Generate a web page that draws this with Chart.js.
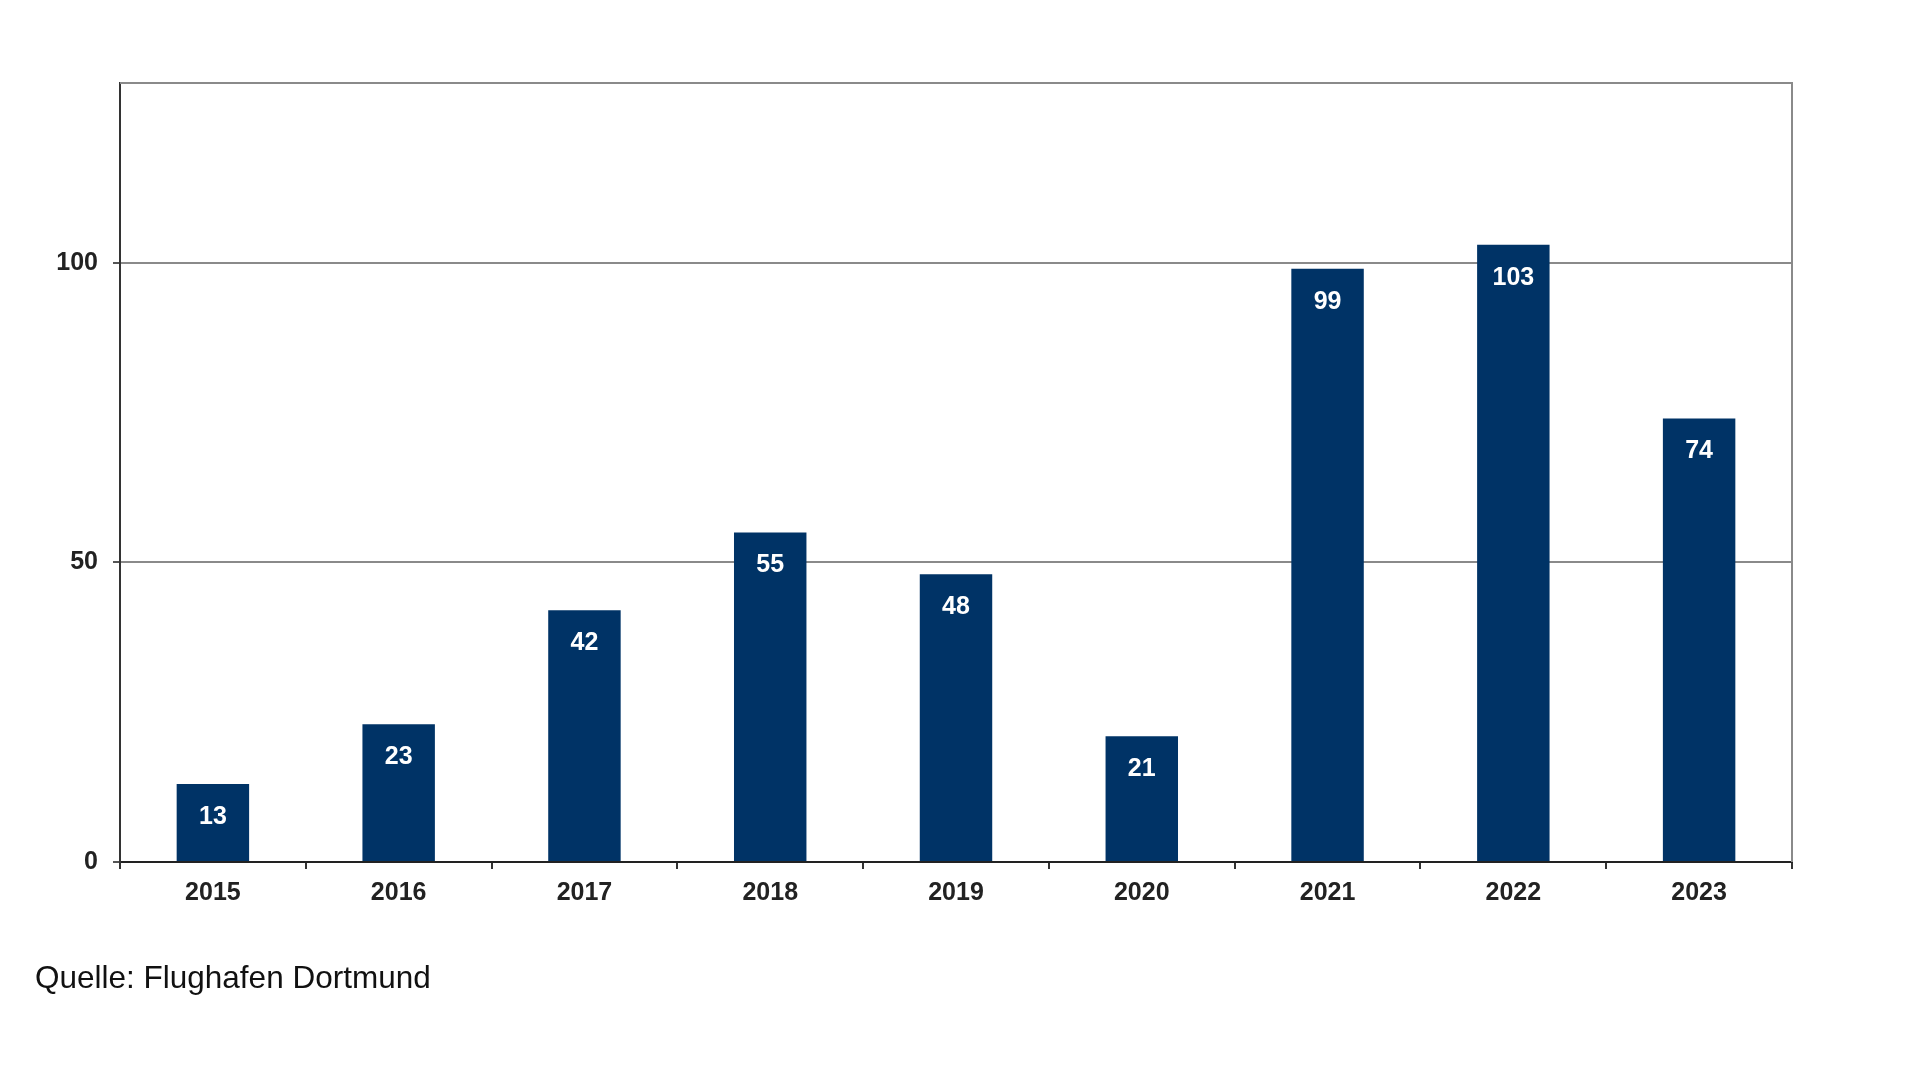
<!DOCTYPE html>
<html>
<head>
<meta charset="utf-8">
<script src="https://cdn.jsdelivr.net/npm/chart.js@4"></script>
<style>
html,body{margin:0;padding:0;background:#fff;}
#wrap{position:relative;width:1920px;height:1080px;}
#caption{position:absolute;left:35px;top:959px;font-family:"Liberation Sans",Arial,sans-serif;font-size:31.5px;line-height:36px;color:#111;white-space:nowrap;}
</style>
</head>
<body>
<div id="wrap">
<canvas id="c" width="1920" height="1080"></canvas>
<div id="caption">Quelle: Flughafen Dortmund</div>
</div>
<script>
const categories = ["2015","2016","2017","2018","2019","2020","2021","2022","2023"];
const values = [13,23,42,55,48,21,99,103,74];
const yTicks = [0,50,100];

const FONT = "'Liberation Sans', Arial, sans-serif";

const frame = {
  id:'frame',
  afterDraw(chart){
    const {ctx, chartArea:a} = chart;
    ctx.save();
    ctx.strokeStyle = '#8a8a8a';
    ctx.lineWidth = 2;
    ctx.beginPath();
    ctx.moveTo(a.left, a.top);
    ctx.lineTo(a.right, a.top);
    ctx.lineTo(a.right, a.bottom);
    ctx.stroke();
    ctx.restore();
  }
};

const valueLabels = {
  id:'valueLabels',
  afterDatasetsDraw(chart){
    const {ctx} = chart;
    const meta = chart.getDatasetMeta(0);
    ctx.save();
    ctx.fillStyle = '#ffffff';
    ctx.font = "bold 25px " + FONT;
    ctx.textAlign = 'center';
    ctx.textBaseline = 'middle';
    meta.data.forEach((bar, i) => {
      ctx.fillText(String(values[i]), bar.x, bar.y + 33);
    });
    ctx.restore();
  }
};

new Chart(document.getElementById('c'), {
  type:'bar',
  data:{
    labels:categories,
    datasets:[{
      data:values,
      backgroundColor:'#003366',
      borderWidth:0,
      categoryPercentage:1,
      barPercentage:0.39
    }]
  },
  options:{
    responsive:false,
    animation:false,
    layout:{padding:{top:83,right:128,bottom:158,left:0}},
    plugins:{legend:{display:false},tooltip:{enabled:false}},
    scales:{
      x:{
        offset:true,
        grid:{display:true,drawOnChartArea:false,drawTicks:true,tickLength:7,color:'#333',lineWidth:2,offset:true},
        border:{display:true,color:'#222',width:2},
        ticks:{color:'#222',font:{family:FONT,size:25,weight:'bold'},padding:9},
        afterFit(s){ s.height = 60; }
      },
      y:{
        min:0,max:130,
        afterBuildTicks(s){ s.ticks = yTicks.map(v=>({value:v})); },
        grid:{color:(c)=> c.tick && c.tick.value===0 ? '#222' : '#8a8a8a',lineWidth:2,tickLength:7,drawTicks:true,tickColor:'#555'},
        border:{display:true,color:'#333',width:2},
        ticks:{color:'#222',font:{family:FONT,size:25,weight:'bold'},padding:15},
        afterFit(s){ s.width = 120; }
      }
    }
  },
  plugins:[frame,valueLabels]
});
</script>
</body>
</html>
